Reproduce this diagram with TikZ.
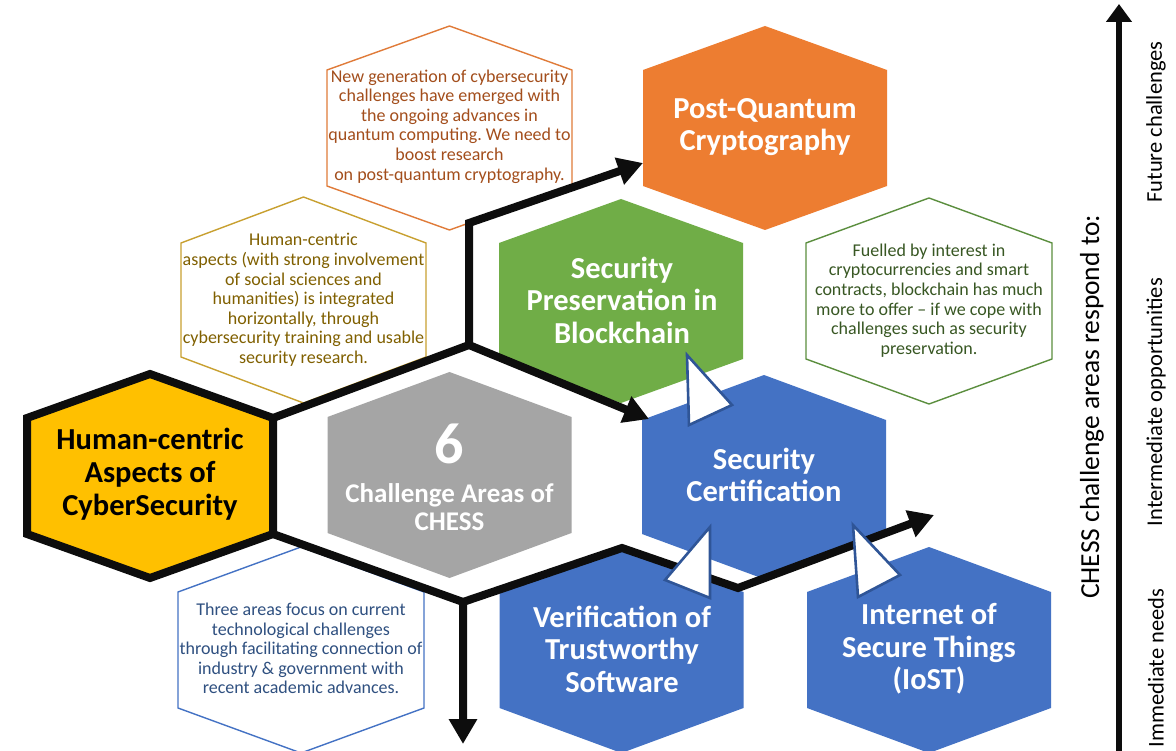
\documentclass[tikz,border=0pt]{standalone}
\usepackage{fontspec}
\setmainfont{Carlito}
\usetikzlibrary{arrows.meta}
\frenchspacing

\definecolor{pqorange}{HTML}{ED7D31}
\definecolor{bcgreen}{HTML}{70AD47}
\definecolor{areablue}{HTML}{4472C4}
\definecolor{areagray}{HTML}{A5A5A5}
\definecolor{hcyellow}{HTML}{FFC000}
\definecolor{inkblack}{HTML}{0D0D0D}
\definecolor{tridark}{HTML}{2F5597}
\definecolor{noteorangeline}{HTML}{E07B39}
\definecolor{noteorangetext}{HTML}{A34E1C}
\definecolor{noteyellowline}{HTML}{C8A030}
\definecolor{noteyellowtext}{HTML}{806000}
\definecolor{notegreenline}{HTML}{5B8E3E}
\definecolor{notegreentext}{HTML}{385723}
\definecolor{notebluetext}{HTML}{2F5080}

% hexagon with a vertex on top: options, centre x, centre y, half width, half height, half side
\newcommand{\hexpath}[6]{%
  \path[#1] ({#2},{#3-#5}) -- ({#2+#4},{#3-#6}) -- ({#2+#4},{#3+#6})
    -- ({#2},{#3+#5}) -- ({#2-#4},{#3+#6}) -- ({#2-#4},{#3-#6}) -- cycle;}

\begin{document}
\begin{tikzpicture}[x=1pt,y=-1pt,
  area/.style={fill=#1},
  notehex/.style={draw=#1,line width=1.4pt,line join=miter},
  arealabel/.style={text=white,font=\bfseries\fontsize{30.5}{32.5}\selectfont,align=center,inner sep=0pt},
  notetext/.style={text=#1,font=\fontsize{18}{19.6}\selectfont,align=center,inner sep=0pt},
  bline/.style={draw=inkblack,line width=8pt,line join=miter,
    -{Triangle[length=25pt,width=27pt]}},
  tri/.style={fill=white,draw=tridark,line width=2.6pt,line join=miter},
  sidelabel/.style={rotate=90,font=\fontsize{22.5}{26}\selectfont,inner sep=0pt}]

\useasboundingbox (0,0) rectangle (1176,751);
\fill[white] (0,0) rectangle (1176,751);

% challenge-area hexagons
\hexpath{area=pqorange}{765}{128}{122}{102}{58}
\hexpath{area=bcgreen}{621}{301}{122}{102}{58}
\hexpath{area=areagray}{449.5}{475}{122}{103}{58}
\hexpath{area=areablue}{764}{477}{122}{102}{57}
\hexpath{area=areablue}{621.5}{650}{122}{103}{58}
\hexpath{area=areablue}{929}{650}{122}{103}{58}

% outlined note hexagons
\hexpath{notehex=noteorangeline}{449.5}{128}{122.5}{102}{58}
\hexpath{notehex=noteyellowline}{303.5}{300}{122.5}{103}{57}
\hexpath{notehex=notegreenline}{929}{301}{123}{103}{58}
\hexpath{notehex=areablue}{301}{650}{123}{103}{58}

% human-centric hexagon with its heavy border
\hexpath{fill=hcyellow,draw=inkblack,line width=8pt,line join=miter}{150}{476}{123}{102}{58}

% junctions of the connector lines
\coordinate (hcUR) at (273,418);
\coordinate (hcLR) at (273,534);
\coordinate (J1) at (469,345);
\coordinate (bend1) at (469,223);
\coordinate (tipPQ) at (643,163);
\coordinate (tipCert) at (649,419);
\coordinate (J2) at (463,602);
\coordinate (tipDown) at (463,744);
\coordinate (K1) at (622,548);
\coordinate (K2) at (738,588);
\coordinate (tipIoST) at (934,515);

\draw[bline] (hcUR) -- (J1) -- (bend1) -- (tipPQ);
\draw[bline] (J1) -- (tipCert);
\draw[bline] (hcLR) -- (J2) -- (tipDown);
\draw[bline] (J2) -- (K1) -- (K2) -- (tipIoST);

% white pointers between neighbouring areas
\path[tri] (687,355) -- (732,405) -- (689,425) -- cycle;
\path[tri] (710,527) -- (710,598) -- (665,580) -- cycle;
\path[tri] (853,525) -- (900,575) -- (858,597) -- cycle;

% area labels
\node[arealabel] (pqc) at (765,127) {Post-Quantum\\Cryptography};
\node[arealabel] (blockchain) at (622,300) {Security\\Preservation in\\Blockchain};
\node[arealabel] (cert) at (764,475) {Security\\Certification};
\node[arealabel] (verif) at (622,649) {Verification of\\Trustworthy\\Software};
\node[arealabel] (iost) at (929,649) {Internet of\\Secure Things\\(IoST)};
\node[arealabel,text=black,font=\bfseries\fontsize{30.5}{33}\selectfont] (human) at (150,474) {Human-centric\\Aspects of\\CyberSecurity};
\node[text=white,font=\bfseries\fontsize{58}{60}\selectfont,inner sep=0pt] (six) at (449.5,444) {6};
\node[arealabel,font=\bfseries\fontsize{27}{28}\selectfont] (chess) at (449.5,507) {Challenge Areas of\\CHESS};

% notes
\node[notetext=noteorangetext] (notepq) at (449.5,126.5) {New generation of cybersecurity\\challenges have emerged with\\the ongoing advances in\\quantum computing. We need to\\boost research\\on post-quantum cryptography.};
\node[notetext=noteyellowtext] (notehc) at (303.5,300) {Human-centric\\aspects (with strong involvement\\of social sciences and\\humanities) is integrated\\horizontally, through\\cybersecurity training and usable\\security research.};
\node[notetext=notegreentext] (notebc) at (929,300.5) {Fuelled by interest in\\cryptocurrencies and smart\\contracts, blockchain has much\\more to offer -- if we cope with\\challenges such as security\\preservation.};
\node[notetext=notebluetext] (notecur) at (301,648.5) {Three areas focus on current\\technological challenges\\through facilitating connection of\\industry \& government with\\recent academic advances.};

% time axis
\coordinate (axisBot) at (1119,751);
\coordinate (axisTop) at (1119,4);
\draw[draw=inkblack,line width=6pt,-{Triangle[length=18pt,width=25pt]}] (axisBot) -- (axisTop);
\node[rotate=90,font=\fontsize{27.5}{30}\selectfont,inner sep=0pt] (axislabel) at (1092,407) {CHESS challenge areas respond to:};
\node[sidelabel] (future) at (1156,122) {Future challenges};
\node[sidelabel] (intermediate) at (1156,402) {Intermediate opportunities};
\node[sidelabel] (immediate) at (1156,668) {Immediate needs};
\end{tikzpicture}
\end{document}
